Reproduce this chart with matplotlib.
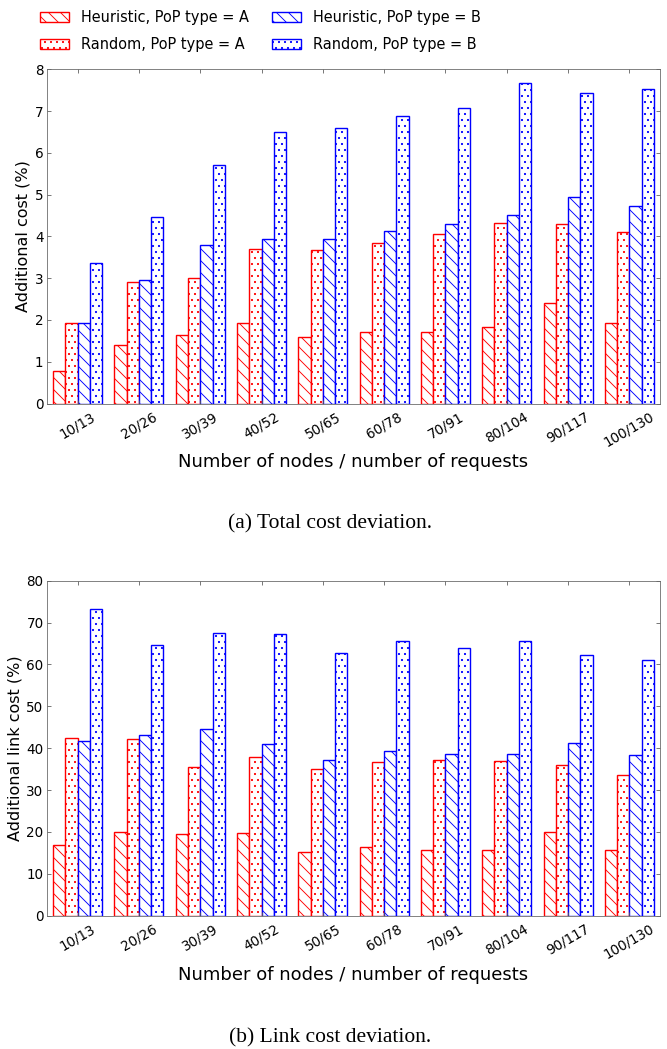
import numpy as np
import matplotlib
matplotlib.use("Agg")
import matplotlib.pyplot as plt

# x categories: number of nodes / number of requests
labels = ["10/13", "20/26", "30/39", "40/52", "50/65",
          "60/78", "70/91", "80/104", "90/117", "100/130"]

# (a) total cost deviation, additional cost (%)
total_heur_a = [0.77, 1.39, 1.65, 1.93, 1.60, 1.71, 1.71, 1.83, 2.40, 1.93]
total_rand_a = [1.94, 2.91, 3.00, 3.71, 3.67, 3.84, 4.07, 4.31, 4.29, 4.11]
total_heur_b = [1.93, 2.96, 3.79, 3.94, 3.94, 4.12, 4.29, 4.52, 4.95, 4.74]
total_rand_b = [3.36, 4.46, 5.71, 6.49, 6.59, 6.88, 7.07, 7.67, 7.43, 7.54]

# (b) link cost deviation, additional link cost (%)
link_heur_a = [16.8, 20.1, 19.4, 19.7, 15.2, 16.4, 15.6, 15.8, 19.9, 15.6]
link_rand_a = [42.5, 42.2, 35.5, 38.0, 35.1, 36.6, 37.2, 36.9, 35.9, 33.5]
link_heur_b = [41.8, 43.1, 44.7, 41.0, 37.3, 39.3, 38.7, 38.5, 41.3, 38.4]
link_rand_b = [73.2, 64.6, 67.4, 67.2, 62.7, 65.6, 64.0, 65.6, 62.2, 61.0]

series_names = ["Heuristic, PoP type = A", "Random, PoP type = A",
                "Heuristic, PoP type = B", "Random, PoP type = B"]
colors = ["red", "red", "blue", "blue"]
hatches = ["\\\\", "..", "\\\\", ".."]

plt.rcParams["font.family"] = "DejaVu Sans"
plt.rcParams["hatch.linewidth"] = 0.9

fig = plt.figure(figsize=(667 / 72, 1049 / 72), dpi=72)
ax1 = fig.add_axes([0.0705, 0.6153, 0.919, 0.3186])
ax2 = fig.add_axes([0.0705, 0.1271, 0.919, 0.3193])

width = 0.2
x = np.arange(len(labels))


def draw(ax, data, ylabel, ymax, step):
    handles = []
    for k, vals in enumerate(data):
        h = ax.bar(x + 0.1 + k * width, vals, width, align="edge",
                   facecolor="white", edgecolor=colors[k], hatch=hatches[k],
                   linewidth=1.4, label=series_names[k])
        handles.append(h)
    ax.set_xlim(0, len(labels))
    ax.set_ylim(0, ymax)
    ax.set_yticks(np.arange(0, ymax + 0.01, step))
    ax.set_xticks(x + 0.5)
    ax.set_xticklabels(labels, rotation=30, ha="center")
    ax.tick_params(direction="in", top=True, right=True, length=4,
                   labelsize=13.5, color="0.35")
    ax.tick_params(axis="x", pad=6)
    for sp in ax.spines.values():
        sp.set_color("0.4")
    ax.set_xlabel("Number of nodes / number of requests", fontsize=18)
    ax.set_ylabel(ylabel, fontsize=16)
    return handles


handles = draw(ax1, [total_heur_a, total_rand_a, total_heur_b, total_rand_b],
               "Additional cost (%)", 8, 1)
draw(ax2, [link_heur_a, link_rand_a, link_heur_b, link_rand_b],
     "Additional link cost (%)", 80, 10)

# legend order: column 1 = type A, column 2 = type B
fig.legend(handles, series_names, loc="upper left", ncol=2, frameon=False,
           fontsize=14.5, bbox_to_anchor=(0.04, 1.003), handlelength=2.0,
           handleheight=0.7, columnspacing=1.6, labelspacing=0.85,
           handletextpad=0.85)

fig.text(0.495, 1 - 524 / 1049, "(a) Total cost deviation.",
         family="Liberation Serif", fontsize=21.5, ha="center", va="center")
fig.text(0.495, 1 - 1038 / 1049, "(b) Link cost deviation.",
         family="Liberation Serif", fontsize=21.5, ha="center", va="center")

fig.savefig("out.png", dpi=72, facecolor="white")
